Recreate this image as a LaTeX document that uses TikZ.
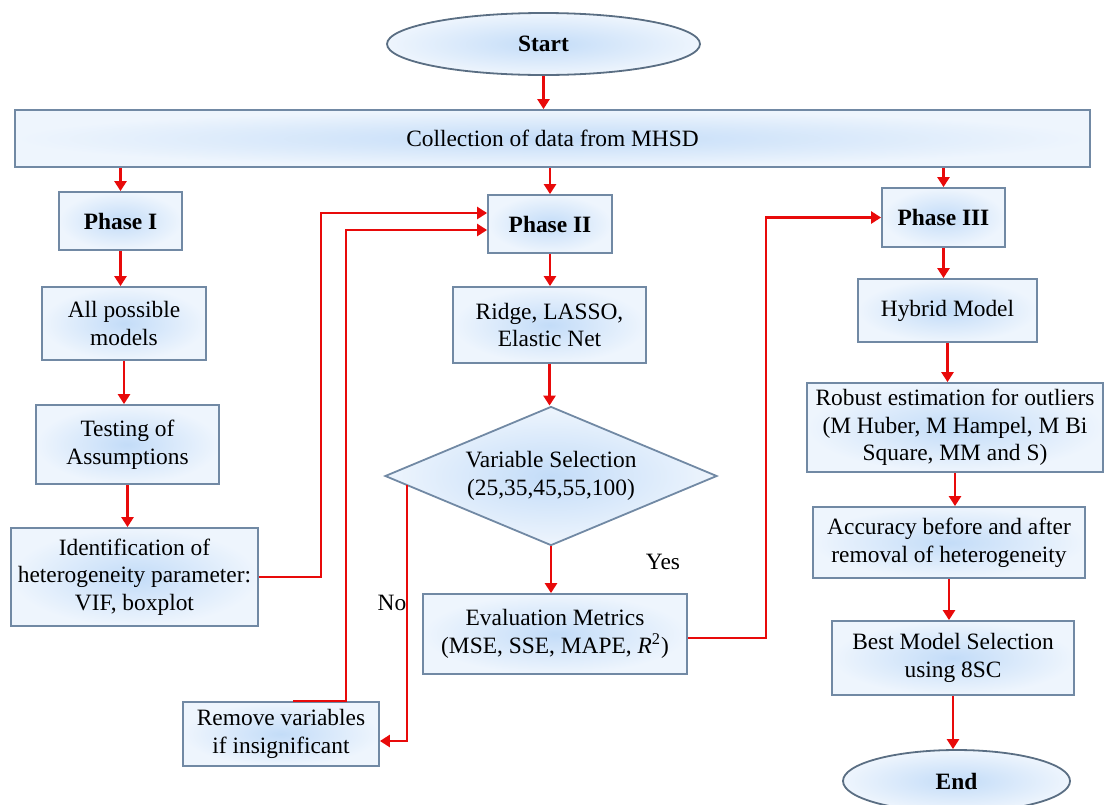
\documentclass[tikz,border=0pt]{standalone}
\usepackage{fontspec}
\setmainfont{Liberation Serif}
\usepackage{xcolor}
\usetikzlibrary{shapes.geometric}
\usetikzlibrary{arrows.meta}

\definecolor{boxedge}{HTML}{7189A4}
\definecolor{boxin}{HTML}{C3DCF8}
\definecolor{boxout}{HTML}{EEF5FD}
\definecolor{flowred}{HTML}{E80A0A}

\begin{document}
\begin{tikzpicture}[x=0.5pt,y=-0.5pt,
	Box/.style={draw=boxedge, line width=0.9pt, inner sep=0pt, align=center,
		inner color=boxin, outer color=boxout,
		font=\fontsize{11.7}{13.8}\selectfont},
	Oval/.style={Box, ellipse, draw=boxedge!80!black},
	Decision/.style={Box, diamond, aspect=2.4},
	Flow/.style={flowred, line width=1.25pt, -{Triangle[length=5pt,width=6pt]}},
	Note/.style={font=\fontsize{11.7}{13.8}\selectfont}]
			%\draw[help lines] (0,0) grid[step=50] (1112,804);
			\useasboundingbox (0,0) rectangle (1112,804);
			
				% start and data
				\node[Oval, minimum width=156.5pt, minimum height=31pt] (start) at (543.5,44) {\textbf{Start}};
				\node[Box, minimum width=537.5pt, minimum height=28.5pt] (collect) at (552.5,138.5) {Collection of data from MHSD};
				
				% phase I
				\node[Box, minimum width=61.5pt, minimum height=29pt] (phase1) at (120.5,221) {\textbf{Phase I}};
				\node[Box, minimum width=82pt, minimum height=36.5pt] (allmod) at (124,323.5) {All possible\\models};
				\node[Box, minimum width=91.5pt, minimum height=39.5pt] (test) at (127.5,444.5) {Testing of\\Assumptions};
				\node[Box, minimum width=123.5pt, minimum height=49pt] (ident) at (134.5,577) {Identification of\\heterogeneity parameter:\\VIF, boxplot};
				
				% phase II
				\node[Box, minimum width=62pt, minimum height=29pt] (phase2) at (550,224) {\textbf{Phase II}};
				\node[Box, minimum width=96.5pt, minimum height=38pt] (ridge) at (549.5,325) {Ridge, LASSO,\\Elastic Net};
				\node[Decision, minimum width=166pt, minimum height=69.5pt] (select) at (551,476) {Variable Selection\\(25,35,45,55,100)};
				\node[Box, minimum width=132pt, minimum height=40pt] (eval) at (555,634) {Evaluation Metrics\\(MSE, SSE, MAPE, \textit{R}\textsuperscript{2})};
				\node[Box, minimum width=98pt, minimum height=32pt] (remove) at (281,734) {Remove variables\\if insignificant};
				\node[Note] (yes) at (663,562) {Yes};
				\node[Note] (no) at (392,603) {No};
				
				% phase III
				\node[Box, minimum width=61.5pt, minimum height=29.5pt] (phase3) at (943.5,217.5) {\textbf{Phase III}};
				\node[Box, minimum width=89.5pt, minimum height=31.5pt] (hybrid) at (947.5,310.5) {Hybrid Model};
				\node[Box, minimum width=148pt, minimum height=44.5pt] (robust) at (955,427.5) {Robust estimation for outliers\\(M Huber, M Hampel, M Bi\\Square, MM and S)};
				\node[Box, minimum width=136pt, minimum height=35.5pt] (accur) at (949,542.5) {Accuracy before and after\\removal of heterogeneity};
				\node[Box, minimum width=121pt, minimum height=37pt] (best) at (953,658) {Best Model Selection\\using 8SC};
				\node[Oval, minimum width=113.5pt, minimum height=31pt] (end) at (956.5,781) {\textbf{End}};
				
				\draw[Flow] (start.south) -- (start.south |- collect.north);
				\draw[Flow] (collect.south -| phase1.north) -- (phase1.north);
				\draw[Flow] (collect.south -| phase2.north) -- (phase2.north);
				\draw[Flow] (collect.south -| phase3.north) -- (phase3.north);
				
				\draw[Flow] (phase1.south) -- (phase1.south |- allmod.north);
				\draw[Flow] (allmod.south) -- (allmod.south |- test.north);
				\draw[Flow] (test.south) -- (test.south |- ident.north);
				\draw[Flow] (ident.east) -- ++(62,0) |- ([yshift=5.5pt]phase2.west);
				
				\draw[Flow] (phase2.south) -- (phase2.south |- ridge.north);
				\draw[Flow] (ridge.south) -- (ridge.south |- select.north);
				\draw[Flow] (select.south) -- (select.south |- eval.north);
				\draw[Flow] ([xshift=11.5pt,yshift=-4.5pt]select.west) |- ([yshift=-3.5pt]remove.east);
				\draw[Flow] ([xshift=6pt]remove.north) -- ++(53,0) |- ([yshift=-3pt]phase2.west);
				\draw[Flow] ([yshift=-2pt]eval.east) -- ++(78,0) |- (phase3.west);
				
				\draw[Flow] (phase3.south) -- (phase3.south |- hybrid.north);
				\draw[Flow] (hybrid.south) -- (hybrid.south |- robust.north);
				\draw[Flow] (robust.south) -- (robust.south |- accur.north);
				\draw[Flow] (accur.south) -- (accur.south |- best.north);
				\draw[Flow] (best.south) -- (best.south |- end.north);
			
			\end{tikzpicture}
\end{document}
